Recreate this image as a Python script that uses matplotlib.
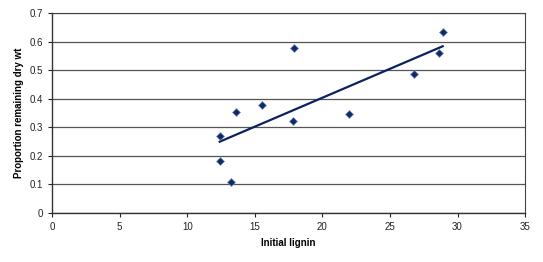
import numpy as np
import matplotlib
matplotlib.use('Agg')
import matplotlib.pyplot as plt

# initial lignin vs proportion remaining dry wt
lignin = [12.4, 12.4, 13.25, 13.6, 15.5, 17.9, 17.8, 22.0, 26.75, 28.6, 28.9]
remaining = [0.270, 0.182, 0.108, 0.353, 0.378, 0.578, 0.322, 0.347, 0.487, 0.560, 0.634]

x_ticks = [0, 5, 10, 15, 20, 25, 30, 35]
y_ticks = [0, 0.1, 0.2, 0.3, 0.4, 0.5, 0.6, 0.7]

plt.rcParams['font.family'] = ['Liberation Sans', 'DejaVu Sans']

fig = plt.figure(figsize=(5.43, 2.62), dpi=100)
ax = fig.add_axes([0.096, 0.187, 0.871, 0.763])

# linear trendline
slope, icept = np.polyfit(lignin, remaining, 1)
xs = np.array([min(lignin), max(lignin)])
ax.plot(xs, slope * xs + icept, color='#0d2160', lw=1.6, zorder=3)

ax.scatter(lignin, remaining, marker='D', s=16, color='#0f2a66',
           edgecolors='#6f86b8', linewidths=0.5, zorder=4)

ax.set_xlim(0, 35)
ax.set_ylim(0, 0.7)
ax.set_xticks(x_ticks)
ax.set_yticks(y_ticks)
ax.set_xticklabels([str(t) for t in x_ticks])
ax.set_yticklabels(['0'] + [f'{t:.1f}' for t in y_ticks[1:]])
ax.tick_params(labelsize=7, length=3, width=0.8, direction='out', colors='#222222')
ax.yaxis.grid(True, color='#555555', lw=0.9)
ax.set_axisbelow(True)
for s in ['top', 'right']:
    ax.spines[s].set_color('#444444')
    ax.spines[s].set_linewidth(0.8)
for s in ['left', 'bottom']:
    ax.spines[s].set_color('#333333')
    ax.spines[s].set_linewidth(1.0)

ax.set_xlabel('Initial lignin', fontsize=7, fontweight='bold', labelpad=4)
ax.set_ylabel('Proportion remaining dry wt', fontsize=7, fontweight='bold', labelpad=4)

fig.savefig('out.png', dpi=100)
